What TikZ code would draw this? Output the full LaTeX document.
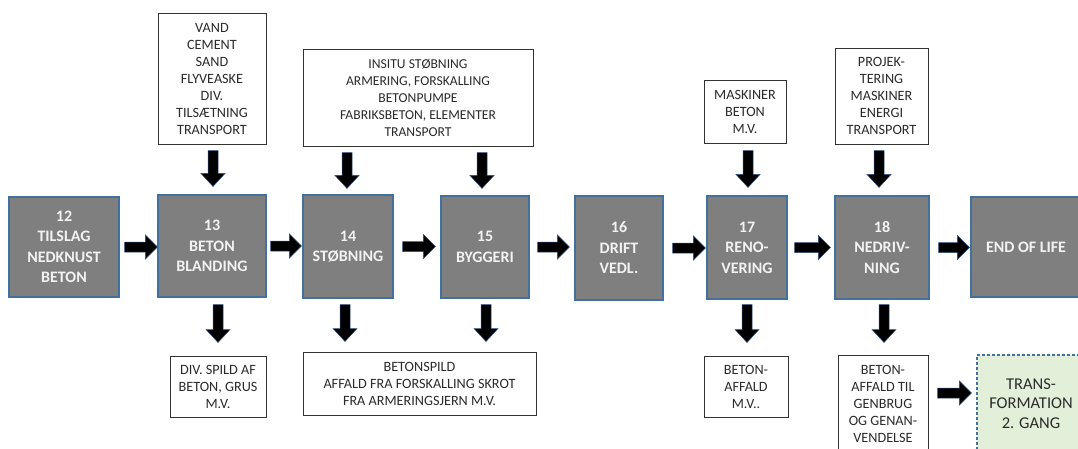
\documentclass[tikz,border=0pt]{standalone}
\usepackage{fontspec}
\setmainfont{Carlito}
\usetikzlibrary{calc}
\definecolor{stagefill}{HTML}{7F7F7F}
\definecolor{stagerim}{HTML}{41719C}
\definecolor{stagetext}{HTML}{F2F2F2}
\definecolor{inktext}{HTML}{2B2B2B}
\definecolor{arrowrim}{HTML}{2F5283}
\definecolor{transfill}{HTML}{E2EFD9}
\begin{document}
\begin{tikzpicture}[x=1pt,y=-1pt,
  size/.style 2 args={minimum width=#1pt, minimum height=#2pt},
  stage/.style={draw=stagerim, line width=1.1pt, fill=stagefill, text=stagetext,
    font=\bfseries\fontsize{16}{20.5}\selectfont, align=center, inner sep=0pt},
  note/.style={draw=black!80, line width=1pt, fill=white, text=inktext,
    font=\fontsize{14.2}{17}\selectfont, align=center, inner sep=0pt},
  transbox/.style={draw=stagerim, dash pattern=on 3pt off 2pt, line width=1.2pt,
    fill=transfill, text=inktext, font=\fontsize{16.5}{19.5}\selectfont,
    align=center, inner sep=0pt},
  rarrow/.style={fill=black, draw=arrowrim, line width=0.5pt, line join=miter,
    to path={let \p1=(\tikztostart), \p2=(\tikztotarget) in
      (\x1,\y1+5pt) -- (\x2-12pt,\y1+5pt) -- (\x2-12pt,\y1+12pt) -- (\x2,\y1)
      -- (\x2-12pt,\y1-12pt) -- (\x2-12pt,\y1-5pt) -- (\x1,\y1-5pt) -- cycle}},
  darrow/.style={fill=black, draw=arrowrim, line width=0.5pt, line join=miter,
    to path={let \p1=(\tikztostart), \p2=(\tikztotarget) in
      (\x1-5pt,\y1) -- (\x1-5pt,\y2+13pt) -- (\x1-12pt,\y2+13pt) -- (\x1,\y2)
      -- (\x1+12pt,\y2+13pt) -- (\x1+5pt,\y2+13pt) -- (\x1+5pt,\y1) -- cycle}}]
\useasboundingbox (0,0) rectangle (1078,448);
\clip (0,0) rectangle (1078,448);

% main process chain
\node[stage, size={110}{100}] (b12) at (64,247) {12\\TILSLAG\\NEDKNUST\\BETON};
\node[stage, size={108}{102}] (b13) at (212,246) {13\\BETON\\BLANDING};
\node[stage, size={90}{103}] (b14) at (348,246.5) {14\\STØBNING};
\node[stage, size={88}{102}] (b15) at (485,247) {15\\BYGGERI};
\node[stage, size={88}{104}] (b16) at (619,248) {16\\DRIFT\\VEDL.};
\node[stage, size={80}{103}] (b17) at (747,247.5) {17\\RENO-\\VERING};
\node[stage, size={94}{103}] (b18) at (882,247.5) {18\\NEDRIV-\\NING};
\node[stage, size={110}{100}] (beol) at (1026,247) {END OF LIFE};

% inputs
\node[note, size={108}{131}] (tvand) at (212,78.5)
  {VAND\\CEMENT\\SAND\\FLYVEASKE\\DIV.\\TILSÆTNING\\TRANSPORT};
\node[note, size={230}{97}, font=\fontsize{13.6}{17}\selectfont] (tinsitu) at (418,97.5)
  {INSITU STØBNING\\ARMERING, FORSKALLING\\BETONPUMPE\\FABRIKSBETON, ELEMENTER\\TRANSPORT};
\node[note, size={82}{63}] (tmask) at (745,111.5) {MASKINER\\BETON\\M.V.};
\node[note, size={93}{96}] (tproj) at (881.5,96)
  {PROJEK-\\TERING\\MASKINER\\ENERGI\\TRANSPORT};

% outputs
\node[note, size={96}{61}] (bdiv) at (218,386.5) {DIV. SPILD AF\\BETON, GRUS\\M.V.};
\node[note, size={233}{63}] (bspild) at (419.5,383.5)
  {BETONSPILD\\AFFALD FRA FORSKALLING SKROT\\FRA ARMERINGSJERN M.V.};
\node[note, size={84}{61}] (baffald) at (746,386.5) {BETON-\\AFFALD\\M.V..};
\node[note, size={90}{97}] (bgenbrug) at (883,403.5)
  {BETON-\\AFFALD TIL\\GENBRUG\\OG GENAN-\\VENDELSE};
\node[transbox, size={108}{97}] (btrans) at (1031,403.5) {TRANS-\\FORMATION\\2. GANG};

% chain arrows
\draw[rarrow] ($(b12.east)+(5,0)$) to (b13.west);
\draw[rarrow] ($(b13.east)+(4,0)$) to ($(b14.west)+(-1,0)$);
\draw[rarrow] ($(b14.east)+(9,0)$) to ($(b15.west)+(-5,0)$);
\draw[rarrow] ($(b15.east)+(8,0)$) to ($(b16.west)+(-5,0)$);
\draw[rarrow] ($(b16.east)+(9,0)$) to ($(b17.west)+(-1,0)$);
\draw[rarrow] ($(b17.east)+(7,0)$) to ($(b18.west)+(-4,0)$);
\draw[rarrow] ($(b18.east)+(9,0)$) to ($(beol.west)+(-1,0)$);
\draw[rarrow] ($(bgenbrug.east)+(9,-10.5)$) to ($(btrans.west)+(-5,-10.5)$);

% input arrows
\draw[darrow] ($(tvand.south)+(1,6)$) to ($(b13.north)+(1,-8)$);
\draw[darrow] ($(tinsitu.south -| b14.north)+(-1,6)$) to ($(b14.north)+(-1,-6)$);
\draw[darrow] ($(tinsitu.south -| b15.north)+(-3,6)$) to ($(b15.north)+(-3,-7)$);
\draw[darrow] ($(tmask.south -| b17.north)+(1,7)$) to ($(b17.north)+(1,-8)$);
\draw[darrow] ($(tproj.south -| b18.north)+(-3,6)$) to ($(b18.north)+(-3,-8)$);

% output arrows
\draw[darrow] ($(b13.south)+(6,7)$) to ($(bdiv.north -| b13.south)+(6,-13)$);
\draw[darrow] ($(b14.south)+(-3,6)$) to ($(bspild.north -| b14.south)+(-3,-10)$);
\draw[darrow] ($(b15.south)+(1,6)$) to ($(bspild.north -| b15.south)+(1,-10)$);
\draw[darrow] ($(b17.south)+(0,5)$) to ($(baffald.north -| b17.south)+(0,-13)$);
\draw[darrow] ($(b18.south)+(2,5)$) to ($(bgenbrug.north -| b18.south)+(2,-12)$);
\end{tikzpicture}
\end{document}
